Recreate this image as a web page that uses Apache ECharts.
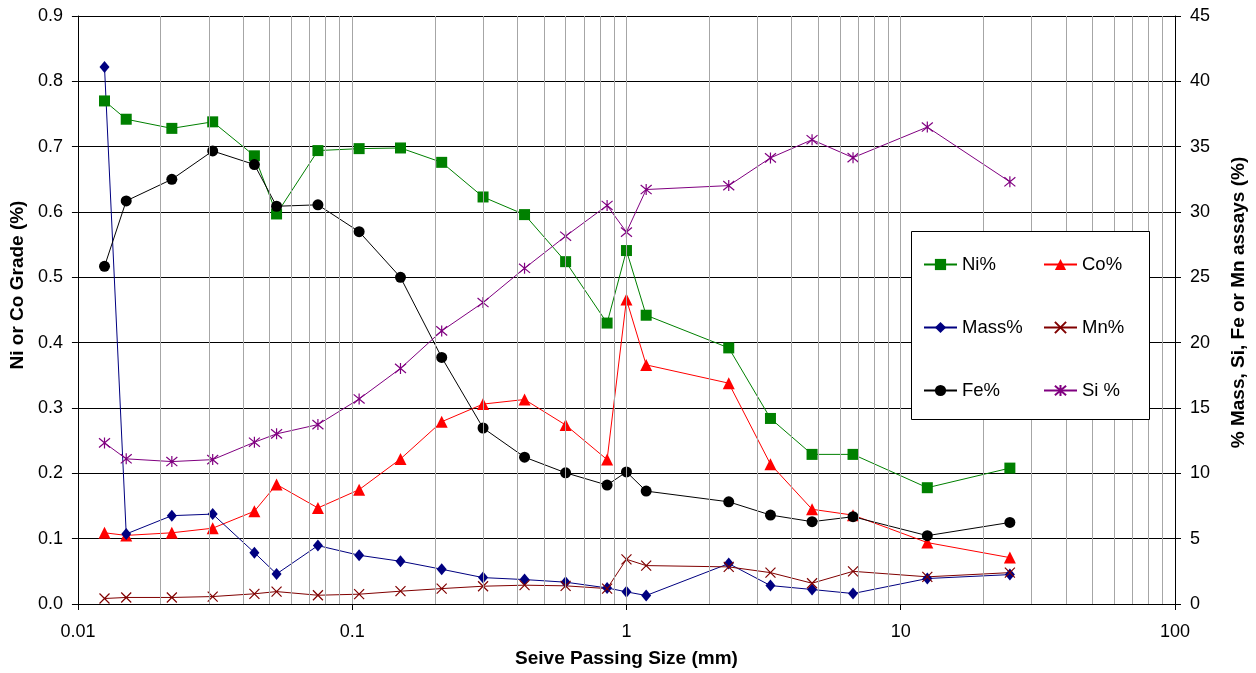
<!DOCTYPE html>
<html>
<head>
<meta charset="utf-8">
<script src="https://cdn.jsdelivr.net/npm/echarts@6/dist/echarts.min.js"></script>
<style>
html,body{margin:0;padding:0;background:#fff;}
#chart{width:1256px;height:673px;}
</style>
</head>
<body>
<div id="chart"></div>
<script>
// ---- data ----
const sizes = [0.0125,0.015,0.022,0.031,0.044,0.053,0.075,0.106,0.15,0.212,0.3,0.425,0.6,0.85,1.0,1.18,2.36,3.35,4.75,6.7,12.5,25];
const ni   = [0.770,0.742,0.728,0.738,0.686,0.597,0.694,0.697,0.698,0.676,0.623,0.596,0.524,0.430,0.541,0.442,0.392,0.284,0.229,0.229,0.178,0.208];
const co   = [0.109,0.105,0.109,0.116,0.142,0.183,0.147,0.175,0.222,0.279,0.306,0.313,0.274,0.221,0.466,0.366,0.338,0.214,0.145,0.136,0.094,0.071];
const mass = [41.1,5.36,6.76,6.88,3.93,2.30,4.47,3.73,3.27,2.66,2.02,1.87,1.67,1.23,0.93,0.65,3.09,1.41,1.11,0.80,1.95,2.25];
const mn   = [0.42,0.50,0.50,0.57,0.78,0.95,0.67,0.75,0.98,1.18,1.36,1.44,1.39,1.18,3.42,2.94,2.84,2.40,1.59,2.50,2.08,2.40];
const fe   = [25.84,30.85,32.5,34.67,33.63,30.44,30.55,28.49,25.0,18.87,13.47,11.24,10.04,9.10,10.11,8.64,7.82,6.81,6.30,6.68,5.23,6.24];
const si   = [12.33,11.11,10.90,11.05,12.38,13.02,13.73,15.69,18.03,20.90,23.07,25.69,28.15,30.50,28.46,31.72,32.02,34.14,35.53,34.16,36.50,32.31];
const seriesNames = ['Ni%','Co%','Mass%','Mn%','Fe%','Si %'];
const xTickLabels = ['0.01','0.1','1','10','100'];

// ---- helpers ----
const FONT = 'Liberation Sans, Arial, sans-serif';
const pair = arr => sizes.map((s,i)=>[s,arr[i]]);
const minorGrid = [];
for (let e=-2; e<2; e++) for (let m=1; m<=9; m++) {
  const v = +(m*Math.pow(10,e)).toPrecision(2);
  if (v > 0.01) minorGrid.push(v);
}
const X_PATH = 'path://M0,0L10,10M10,0L0,10';
const STAR_PATH = 'path://M0,0L10,10M10,0L0,10M5,-1L5,11';

function mk(name, data, yIdx, color, symbol, size, stroke){
  return {
    name, type:'line', data: pair(data), yAxisIndex:yIdx,
    symbol, symbolSize:size, showSymbol:true,
    lineStyle:{color, width:1},
    itemStyle: stroke ? {color, borderColor:color, borderWidth:1.2} : {color},
    emphasis:{disabled:true}, z:3
  };
}

const chart = echarts.init(document.getElementById('chart'));
chart.setOption({
  animation:false,
  backgroundColor:'#fff',
  grid:{left:77, right:79, top:16, bottom:67, containLabel:false},
  xAxis:{
    type:'log', logBase:10, min:0.01, max:100,
    name:'Seive Passing Size (mm)', nameLocation:'middle', nameGap:45,
    nameTextStyle:{fontFamily:FONT, fontSize:19, fontWeight:'bold', color:'#000'},
    axisLine:{show:true, onZero:false, lineStyle:{color:'#000', width:1}},
    axisTick:{show:true, inside:false, length:6, lineStyle:{color:'#000'}},
    axisLabel:{fontFamily:FONT, fontSize:18, color:'#000', margin:19,
      formatter: v => { const i = Math.round(Math.log10(v))+2; return xTickLabels[i] !== undefined ? xTickLabels[i] : String(v); }},
    splitLine:{show:false},
    minorTick:{show:false}
  },
  yAxis:[{
    type:'value', min:0, max:0.9, interval:0.1, position:'left',
    name:'Ni or Co Grade (%)', nameLocation:'middle', nameGap:48, nameRotate:90,
    nameTextStyle:{fontFamily:FONT, fontSize:19, fontWeight:'bold', color:'#000', padding:[0,0,0,50]},
    axisLine:{show:true, lineStyle:{color:'#000', width:1}},
    axisTick:{show:true, length:6, lineStyle:{color:'#000'}},
    axisLabel:{fontFamily:FONT, fontSize:18, color:'#000', margin:15, formatter:v=>v.toFixed(1)},
    splitLine:{show:true, lineStyle:{color:'#000', width:1}}
  },{
    type:'value', min:0, max:45, interval:5, position:'right',
    name:'% Mass, Si, Fe or Mn assays (%)', nameLocation:'middle', nameGap:54, nameRotate:90,
    nameTextStyle:{fontFamily:FONT, fontSize:19, fontWeight:'bold', color:'#000', padding:[0,0,0,15]},
    axisLine:{show:true, lineStyle:{color:'#000', width:1}},
    axisTick:{show:true, length:6, lineStyle:{color:'#000'}},
    axisLabel:{fontFamily:FONT, fontSize:18, color:'#000', margin:15},
    splitLine:{show:false}
  }],
  legend:[{
    data:[seriesNames[0], seriesNames[2], seriesNames[4]],
    orient:'vertical', left:918, top:250, itemWidth:33, itemHeight:14, itemGap:44,
    textStyle:{fontFamily:FONT, fontSize:18.5, color:'#000'}, z:12, selectedMode:false
  },{
    data:[seriesNames[1], seriesNames[3], seriesNames[5]],
    orient:'vertical', left:1038, top:250, itemWidth:33, itemHeight:14, itemGap:44,
    textStyle:{fontFamily:FONT, fontSize:18.5, color:'#000'}, z:12, selectedMode:false
  }],
  graphic:[{
    type:'rect', left:911, top:231, z:10, silent:true,
    shape:{width:238, height:188},
    style:{fill:'#fff', stroke:'#000', lineWidth:1}
  }],
  series:[
    {
      name:'grid', type:'line', data:[], z:1, silent:true,
      markLine:{
        silent:true, symbol:['none','none'], label:{show:false}, animation:false,
        lineStyle:{color:'#a6a6a6', type:'solid', width:1},
        emphasis:{disabled:true},
        data: minorGrid.map(v=>({xAxis:v}))
      }
    },
    mk(seriesNames[0], ni, 0, '#008000', 'rect', 11, false),
    mk(seriesNames[1], co, 0, '#ff0000', 'triangle', 12, false),
    mk(seriesNames[2], mass, 1, '#000080', 'diamond', [10,12], false),
    mk(seriesNames[3], mn, 1, '#800000', X_PATH, 10, true),
    mk(seriesNames[4], fe, 1, '#000000', 'circle', 11, false),
    mk(seriesNames[5], si, 1, '#800080', STAR_PATH, 11, true)
  ]
});
</script>
</body>
</html>
